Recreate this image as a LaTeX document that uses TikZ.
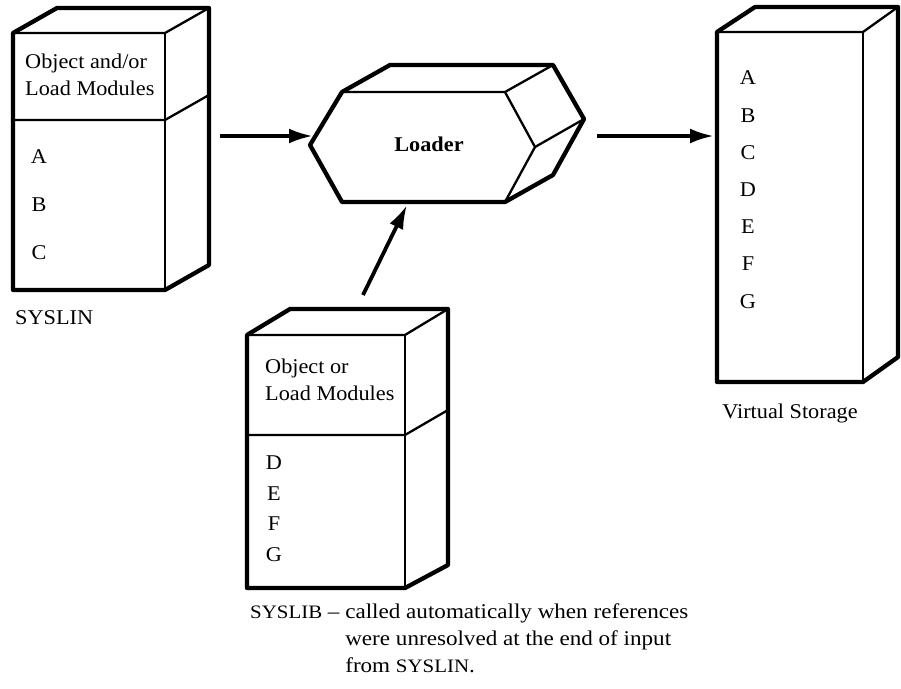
\documentclass[tikz,border=0pt]{standalone}
\usepackage{fontspec}
\setmainfont{Liberation Serif}[FakeStretch=1.06]
\newfontfamily\notefont{Liberation Serif}[Ligatures=TeX,FakeStretch=1.1]
\usepackage{tikz}
\usetikzlibrary{arrows.meta}

\begin{document}
\begin{tikzpicture}[
    x=1pt,y=-1pt,
    font=\fontsize{21}{27}\selectfont,
    outline/.style={line width=4.3pt,line join=round},
    edge/.style={line width=2.3pt,line join=round},
    arr/.style={-{Latex[length=24pt,width=15pt]},line width=3.8pt},
    lbl/.style={anchor=west,inner sep=0pt,align=left},
    letter/.style={inner sep=0pt}
  ]
    \useasboundingbox (0,0) rectangle (901,688);
    % SYSLIN input box
    \draw[outline] (13,290) -- (13,33) -- (57,8) -- (209,8) -- (209,265) -- (165,290) -- cycle;
    \draw[edge] (13,33) -- (165,33) -- (209,8);
    \draw[edge] (165,33) -- (165,290);
    \draw[edge] (13,120) -- (165,120) -- (209,95);
    \node[lbl] (lintxt) at (25,75) {Object and/or\\Load Modules};
    \foreach \l [count=\i from 0] in {A,B,C}
      \node[letter] (lin\l) at (39,157+48*\i) {\l};
    \node[lbl] (lin) at (15,318) {SYSLIN};
    % loader
    \draw[outline] (310,145) -- (342,92) -- (390,65) -- (553,65) -- (584,119) -- (553,175) -- (505,202) -- (342,202) -- cycle;
    \draw[edge] (342,92) -- (505,92) -- (553,65);
    \draw[edge] (505,92) -- (535,147) -- (505,202);
    \draw[edge] (535,147) -- (584,119);
    \node[font=\fontsize{21}{27}\selectfont\bfseries] (ldr) at (429,144) {Loader};
    % SYSLIB library box
    \draw[outline] (247,588) -- (247,335) -- (290,309) -- (448,309) -- (448,565) -- (405,588) -- cycle;
    \draw[edge] (247,335) -- (405,335) -- (448,309);
    \draw[edge] (405,335) -- (405,588);
    \draw[edge] (247,435) -- (405,435) -- (448,410);
    \node[lbl] (libtxt) at (265,380) {Object or\\Load Modules};
    \foreach \l [count=\i from 0] in {D,E,F,G}
      \node[letter] (lib\l) at (274,463+30.5*\i) {\l};
    \node[lbl,font=\fontsize{21}{27}\notefont] (lib) at (250,640) {\begin{tabular}{@{}l@{ }l@{}}
      {\fontsize{19}{27}\selectfont SYSLIB} -- & called automatically when references\\
      & were unresolved at the end of input\\
      & from {\fontsize{19}{27}\selectfont SYSLIN}.
    \end{tabular}};
    % virtual storage
    \draw[outline] (717,382) -- (717,32) -- (755,7) -- (898,7) -- (898,357) -- (863,382) -- cycle;
    \draw[edge] (717,32) -- (863,32) -- (898,7);
    \draw[edge] (863,32) -- (863,382);
    \foreach \l [count=\i from 0] in {A,B,C,D,E,F,G}
      \node[letter] (vs\l) at (748,78+37.2*\i) {\l};
    \node (vs) at (790,413) {Virtual Storage};
    % arrows
    \coordinate (linout) at (220,136);
    \coordinate (ldrin) at (313,136);
    \coordinate (ldrout) at (597,136);
    \coordinate (vsin) at (714,136);
    \coordinate (libout) at (363,295);
    \coordinate (ldrbot) at (407,205);
    \draw[arr] (linout) -- (ldrin);
    \draw[arr] (ldrout) -- (vsin);
    \draw[arr] (libout) -- (ldrbot);
  \end{tikzpicture}
\end{document}
